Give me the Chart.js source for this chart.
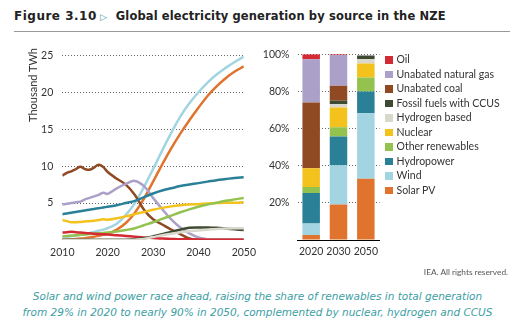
<!DOCTYPE html>
<html>
<head>
    <title>Global electricity generation by source in the NZE</title>
    <script src="https://cdn.jsdelivr.net/npm/chart.js"></script>
    <style>
        body { margin: 0; background: #fff; width: 515px; height: 321px; position: relative; overflow: hidden; font-family: Lato, sans-serif; }
        .abs { position: absolute; }
        #title { left: 14px; top: 8px; white-space: nowrap; font-size: 12px; color: #222; }
        #title b { font-family: "DejaVu Sans", sans-serif; font-size: 12px; letter-spacing: 0.5px; }
        #title .tri { color: #3a9aa0; font-size: 8.5px; margin: 0 9px 0 3px; }
        #title .main { font-family: "DejaVu Sans", sans-serif; font-weight: bold; font-size: 11.5px; letter-spacing: 0.12px; }
        #rule { left: 14px; top: 31px; width: 496px; height: 1px; background: #999; }
        #ytitle { left: 33px; top: 53px; transform-origin: 0 0; transform: translate(-7px, 69px) rotate(-90deg); font-size: 11px; color: #333; white-space: nowrap; }
        #legend { left: 385px; top: 52px; font-size: 10.5px; color: #333; }
        #legend div { height: 14.55px; line-height: 14.55px; white-space: nowrap; }
        #legend span { display: inline-block; width: 7.5px; height: 7.5px; margin-right: 4px; vertical-align: -0.5px; }
        #credit { right: 7px; top: 267px; font-size: 8.3px; color: #555; }
        #caption { left: 0; width: 515px; top: 289px; text-align: center; font-family: "DejaVu Sans", sans-serif; font-style: italic; font-size: 10.5px; line-height: 15.5px; color: #3c9ea4; }
    </style>
</head>
<body>
    <div id="title" class="abs"><b>Figure 3.10</b><span class="tri">&#9655;</span><span class="main">Global electricity generation by source in the NZE</span></div>
    <div id="rule" class="abs"></div>
    <canvas id="lineChart" class="abs" style="left:0px; top:40px;" width="262" height="222"></canvas>
    <div id="ytitle" class="abs">Thousand TWh</div>
    <canvas id="barChart" class="abs" style="left:255px; top:40px;" width="130" height="222"></canvas>
    <div id="legend" class="abs"></div>
    <div id="credit" class="abs">IEA. All rights reserved.</div>
    <div id="caption" class="abs">Solar and wind power race ahead, raising the share of renewables in total generation<br>from 29% in 2020 to nearly 90% in 2050, complemented by nuclear, hydrogen and CCUS</div>

    <script>
        // Generation in thousand TWh
        var years = [2010, 2011, 2012, 2013, 2014, 2015, 2016, 2017, 2018, 2019, 2020,
                     2022, 2024, 2026, 2028, 2030, 2032, 2034, 2036, 2038, 2040, 2042, 2044, 2046, 2048, 2050];
        var oil      = [1.0, 1.05, 1.1, 1.05, 1.0, 0.95, 0.9, 0.85, 0.8, 0.78, 0.75, 0.65, 0.55, 0.45, 0.35, 0.28, 0.2, 0.15, 0.1, 0.08, 0.06, 0.05, 0.05, 0.05, 0.05, 0.05];
        var gas      = [4.8, 4.9, 5.0, 5.1, 5.2, 5.5, 5.7, 5.9, 6.1, 6.4, 6.25, 7.0, 7.6, 8.0, 7.3, 5.7, 4.2, 2.8, 1.7, 0.9, 0.35, 0.1, 0.05, 0.05, 0.05, 0.05];
        var coal     = [8.7, 9.1, 9.3, 9.6, 9.9, 9.6, 9.5, 9.8, 10.2, 9.9, 9.2, 8.3, 7.5, 6.1, 4.1, 2.8, 2.1, 1.4, 0.8, 0.2, 0.05, 0.05, 0.05, 0.05, 0.05, 0.05];
        var ccus     = [0.02, 0.02, 0.02, 0.02, 0.02, 0.02, 0.02, 0.02, 0.02, 0.02, 0.02, 0.02, 0.03, 0.1, 0.25, 0.5, 0.8, 1.1, 1.4, 1.65, 1.7, 1.7, 1.65, 1.55, 1.45, 1.35];
        var hydrogen = [0, 0, 0, 0, 0, 0, 0, 0, 0, 0, 0, 0, 0.01, 0.05, 0.15, 0.4, 0.65, 0.85, 1.05, 1.2, 1.3, 1.4, 1.5, 1.55, 1.6, 1.6];
        var nuclear  = [2.7, 2.55, 2.4, 2.4, 2.45, 2.5, 2.55, 2.6, 2.7, 2.8, 2.75, 2.95, 3.2, 3.5, 3.8, 4.1, 4.35, 4.55, 4.7, 4.8, 4.85, 4.95, 5.0, 5.05, 5.05, 5.1];
        var otherRen = [0.5, 0.55, 0.6, 0.65, 0.7, 0.75, 0.8, 0.85, 0.9, 0.95, 1.0, 1.15, 1.35, 1.6, 2.0, 2.4, 2.85, 3.3, 3.75, 4.15, 4.5, 4.8, 5.05, 5.3, 5.5, 5.7];
        var hydro    = [3.5, 3.6, 3.7, 3.8, 3.9, 4.0, 4.1, 4.2, 4.3, 4.4, 4.5, 4.7, 5.0, 5.3, 5.8, 6.3, 6.7, 7.0, 7.3, 7.5, 7.7, 7.9, 8.1, 8.25, 8.4, 8.5];
        var wind     = [0.35, 0.45, 0.5, 0.6, 0.7, 0.8, 0.95, 1.1, 1.25, 1.4, 1.6, 2.2, 3.4, 5.0, 7.2, 9.6, 12.1, 14.5, 16.7, 18.5, 20.0, 21.3, 22.4, 23.3, 24.1, 24.8];
        var solar    = [0.03, 0.06, 0.1, 0.14, 0.19, 0.25, 0.33, 0.44, 0.57, 0.7, 0.83, 1.4, 2.3, 3.7, 5.6, 7.9, 10.2, 12.4, 14.4, 16.2, 17.9, 19.5, 20.8, 21.9, 22.8, 23.5];

        // Share of generation (%) in selected years
        var shareYears = ['2020', '2030', '2050'];
        var shareSolar    = [2.7, 19.1, 33.0];
        var shareWind     = [6.2, 21.1, 35.2];
        var shareHydro    = [16.4, 15.5, 11.8];
        var shareOtherRen = [3.2, 5.0, 7.5];
        var shareNuclear  = [10.2, 10.7, 7.5];
        var shareHydrogen = [0, 1.8, 2.5];
        var shareCcus     = [0, 1.8, 1.8];
        var shareCoal     = [35.4, 8.0, 0];
        var shareGas      = [23.2, 16.6, 0];
        var shareOil      = [2.7, 0.4, 0];

        var names = ['Oil', 'Unabated natural gas', 'Unabated coal', 'Fossil fuels with CCUS', 'Hydrogen based',
                     'Nuclear', 'Other renewables', 'Hydropower', 'Wind', 'Solar PV'];
        var colors = ['#d42a33', '#aba0c8', '#8f4a24', '#3e4a32', '#d8d8cc',
                      '#f3c21c', '#93c24f', '#2a8097', '#a2d4e1', '#e0742e'];

        var tickFont = { family: 'Lato', size: 10.5 };
        var tickColor = '#333';

        function pts(vals) {
            return years.map(function (yr, i) { return { x: yr, y: vals[i] }; });
        }
        function lineSet(idx, vals) {
            return {
                label: names[idx], data: pts(vals), borderColor: colors[idx],
                borderWidth: 2.5, pointRadius: 0, tension: 0.4, fill: false
            };
        }

        new Chart(document.getElementById('lineChart'), {
            type: 'line',
            data: {
                datasets: [
                    lineSet(4, hydrogen), lineSet(3, ccus), lineSet(0, oil), lineSet(6, otherRen),
                    lineSet(5, nuclear), lineSet(7, hydro), lineSet(1, gas), lineSet(2, coal),
                    lineSet(9, solar), lineSet(8, wind)
                ]
            },
            options: {
                responsive: false, animation: false,
                layout: { padding: { top: 12.7, right: 10, bottom: 0, left: 0 } },
                plugins: { legend: { display: false }, tooltip: { enabled: false } },
                scales: {
                    x: {
                        type: 'linear', min: 2010, max: 2050,
                        grid: { display: false, drawTicks: false }, border: { display: false },
                        ticks: { stepSize: 10, padding: 6, color: tickColor, font: tickFont, maxRotation: 0,
                                 callback: function (v) { return String(v); } },
                        afterFit: function (s) { s.height = 22; }
                    },
                    y: {
                        min: 0, max: 25,
                        grid: { drawTicks: false, lineWidth: 1,
                                color: function (c) { return c.tick.value === 0 ? 'rgba(0,0,0,0)' : '#666'; } },
                        border: { display: false, dash: [1, 2] },
                        ticks: { stepSize: 5, padding: 9, color: tickColor, font: tickFont,
                                 callback: function (v) { return v === 0 ? '' : v; } },
                        afterFit: function (s) { s.width = 62.3; }
                    }
                }
            }
        });

        function barSet(idx, vals) {
            return { label: names[idx], data: vals, backgroundColor: colors[idx], borderWidth: 0,
                     barPercentage: 0.64, categoryPercentage: 1 };
        }

        new Chart(document.getElementById('barChart'), {
            type: 'bar',
            data: {
                labels: shareYears,
                datasets: [
                    barSet(9, shareSolar), barSet(8, shareWind), barSet(7, shareHydro), barSet(6, shareOtherRen),
                    barSet(5, shareNuclear), barSet(4, shareHydrogen), barSet(3, shareCcus), barSet(2, shareCoal),
                    barSet(1, shareGas), barSet(0, shareOil)
                ]
            },
            options: {
                responsive: false, animation: false,
                layout: { padding: { top: 12.7, right: 5.5, bottom: 0, left: 0 } },
                plugins: { legend: { display: false }, tooltip: { enabled: false } },
                scales: {
                    x: {
                        stacked: true,
                        grid: { display: false, drawTicks: false },
                        border: { display: true, color: '#000', width: 1 },
                        ticks: { padding: 5, color: tickColor, font: tickFont, maxRotation: 0, autoSkip: false },
                        afterFit: function (s) { s.height = 22; }
                    },
                    y: {
                        stacked: true, min: 0, max: 100,
                        grid: { drawTicks: false, lineWidth: 1,
                                color: function (c) { return c.tick.value === 0 ? 'rgba(0,0,0,0)' : '#666'; } },
                        border: { display: false, dash: [1, 2] },
                        ticks: { stepSize: 20, padding: 8, color: tickColor, font: tickFont,
                                 callback: function (v) { return v === 0 ? '' : v + '%'; } },
                        afterFit: function (s) { s.width = 42.5; }
                    }
                }
            }
        });

        // legend listing sources from top of the stack down
        var legend = document.getElementById('legend');
        names.forEach(function (n, i) {
            var row = document.createElement('div');
            var box = document.createElement('span');
            box.style.background = colors[i];
            row.appendChild(box);
            row.appendChild(document.createTextNode(n));
            legend.appendChild(row);
        });
    </script>
</body>
</html>
